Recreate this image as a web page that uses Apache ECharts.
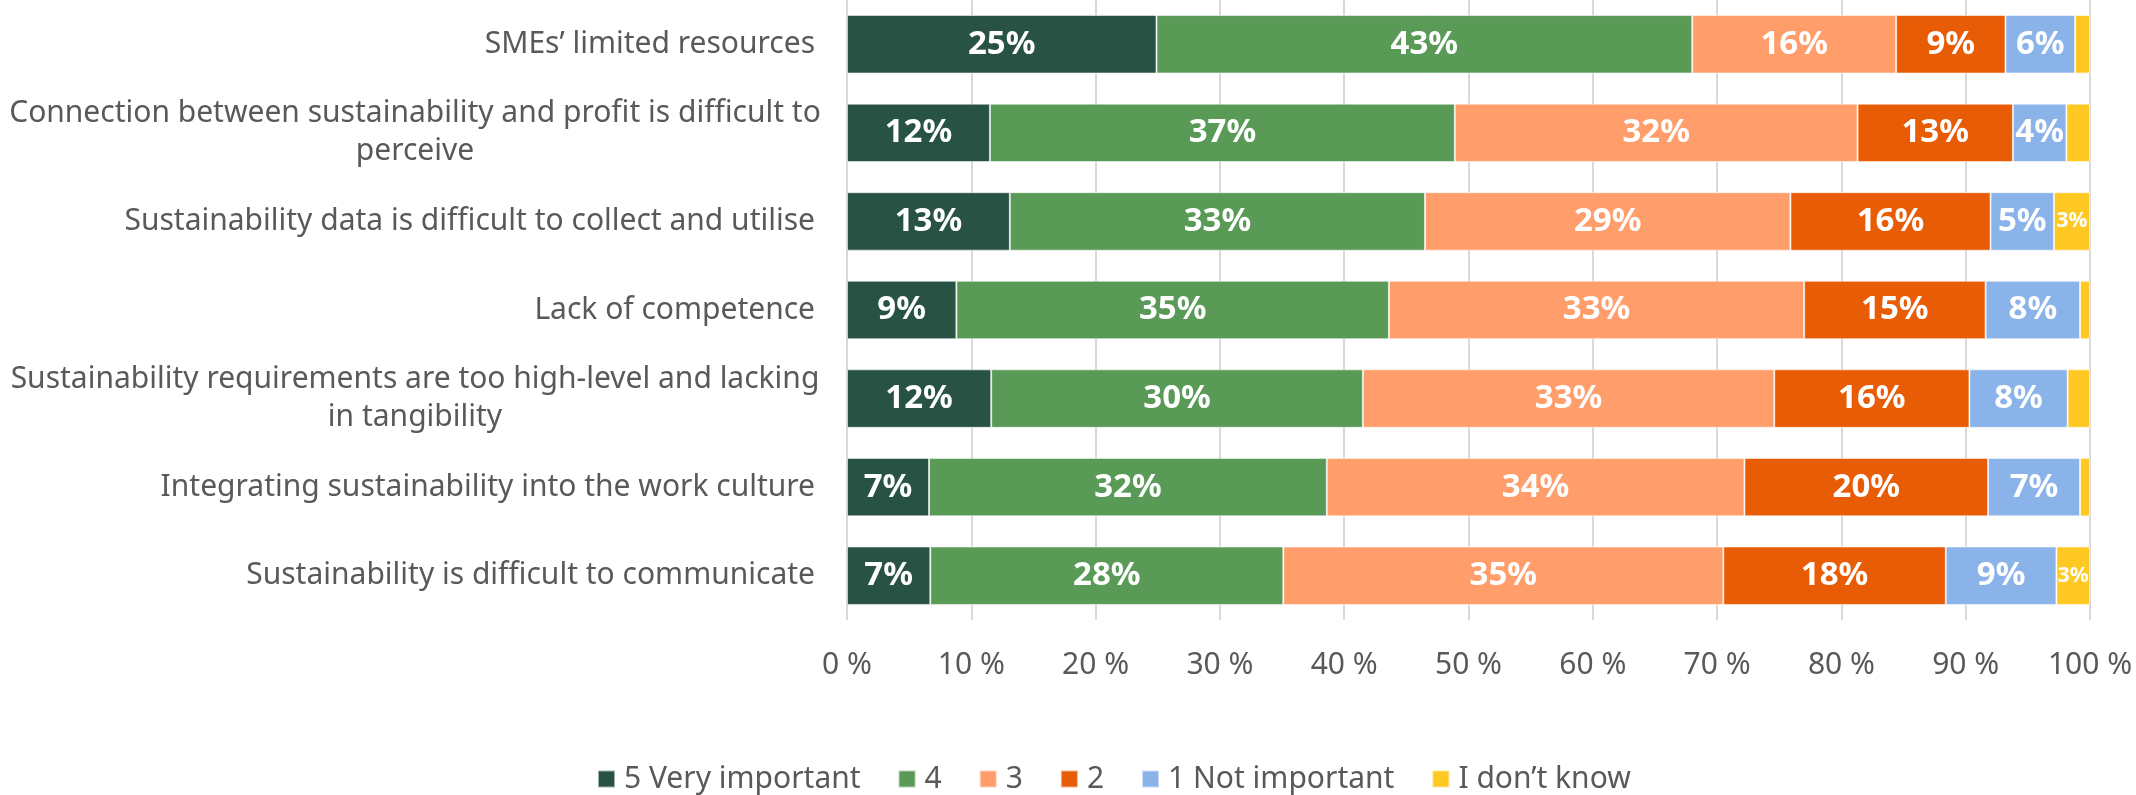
<!DOCTYPE html>
<html>
<head>
<meta charset="utf-8">
<script src="https://cdn.jsdelivr.net/npm/echarts@6/dist/echarts.min.js"></script>
<style>
html,body{margin:0;padding:0;background:#fff;}
#chart{width:2136px;height:795px;}
</style>
</head>
<body>
<div id="chart"></div>
<script>
const categories = [
  "SMEs’ limited resources",
  "Connection between sustainability and profit is difficult to\nperceive",
  "Sustainability data is difficult to collect and utilise",
  "Lack of competence",
  "Sustainability requirements are too high-level and lacking\nin tangibility",
  "Integrating sustainability into the work culture",
  "Sustainability is difficult to communicate"
];
const seriesNames = ["5 Very important", "4", "3", "2", "1 Not important", "I don’t know"];
const veryImportant = [24.9, 11.5, 13.1, 8.8, 11.6, 6.6, 6.7];
const four         = [43.1, 37.4, 33.4, 34.8, 29.9, 32.0, 28.4];
const three        = [16.4, 32.4, 29.4, 33.4, 33.1, 33.6, 35.4];
const two          = [8.8, 12.5, 16.1, 14.6, 15.7, 19.6, 17.9];
const notImportant = [5.6, 4.3, 5.1, 7.6, 7.9, 7.4, 8.9];
const dontKnow     = [1.2, 1.9, 2.9, 0.8, 1.8, 0.8, 2.7];
const xTicks = [0, 10, 20, 30, 40, 50, 60, 70, 80, 90, 100];

const colors = ["#285244", "#5A9A57", "#FF9E6B", "#E85C05", "#8AB3EA", "#FFC822"];
const values = [veryImportant, four, three, two, notImportant, dontKnow];
const FONT = "'Noto Sans', 'Open Sans', sans-serif";

const chart = echarts.init(document.getElementById('chart'));
const series = seriesNames.map((name, i) => ({
  name: name,
  type: 'bar',
  stack: 'total',
  barWidth: '66%',
  data: values[i],
  itemStyle: { color: colors[i], borderColor: 'rgba(255,255,255,0.55)', borderWidth: 1 },
  label: {
    show: true,
    position: 'inside',
    color: '#fff',
    fontFamily: FONT,
    fontWeight: 'bold',
    fontSize: i === 5 ? 21 : 33,
    formatter: p => (i === 5 && p.value < 2.5) ? '' : Math.round(p.value) + '%'
  }
}));

chart.setOption({
  animation: false,
  backgroundColor: '#fff',
  grid: { left: 847, right: 46, top: 0, bottom: 175, containLabel: false },
  legend: {
    data: seriesNames,
    left: 592,
    top: 759,
    itemWidth: 17,
    itemHeight: 17,
    itemGap: 37,
    icon: 'rect',
    textStyle: { fontFamily: FONT, fontSize: 30, color: '#595959', padding: [0, 0, 0, 4] }
  },
  xAxis: {
    type: 'value',
    min: xTicks[0],
    max: xTicks[xTicks.length - 1],
    interval: xTicks[1] - xTicks[0],
    axisLine: { show: false },
    axisTick: { show: false },
    splitLine: { show: true, lineStyle: { color: '#D9D9D9', width: 2 } },
    axisLabel: {
      margin: 30,
      fontFamily: FONT,
      fontSize: 30,
      color: '#595959',
      formatter: v => v + ' %'
    }
  },
  yAxis: {
    type: 'category',
    inverse: true,
    data: categories,
    axisLine: { show: false },
    axisTick: { show: false },
    axisLabel: {
      margin: 32,
      fontFamily: FONT,
      fontSize: 30,
      color: '#595959',
      lineHeight: 38,
      formatter: v => v.indexOf('\n') >= 0
        ? v.split('\n').map(l => '{w|' + l + '}').join('\n')
        : v,
      rich: {
        w: { width: 800, align: 'center', fontFamily: FONT, fontSize: 30, color: '#595959', lineHeight: 38 }
      }
    }
  },
  series: series
});
</script>
</body>
</html>
